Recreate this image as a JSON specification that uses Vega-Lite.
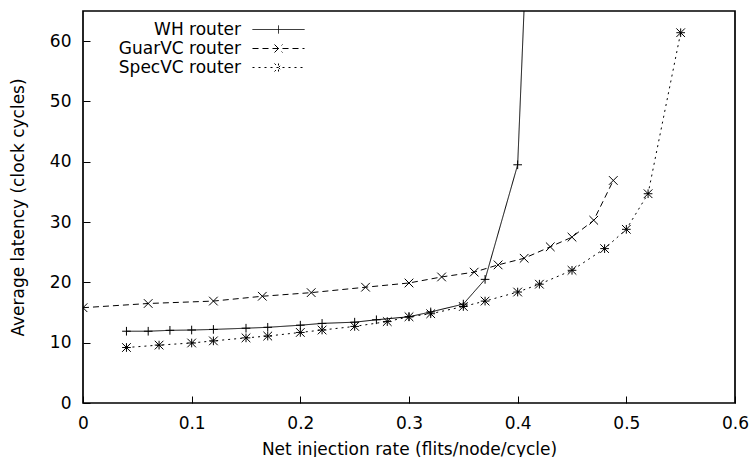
{
  "$schema": "https://vega.github.io/schema/vega-lite/v6.json",
  "width": 652,
  "height": 392,
  "autosize": "none",
  "padding": {"left": 83, "top": 11, "right": 16, "bottom": 54},
  "background": "white",
  "config": {
    "view": {"stroke": "#000", "strokeWidth": 1.7},
    "font": "DejaVu Sans",
    "axis": {
      "grid": false,
      "domain": false,
      "tickSize": -7,
      "tickColor": "#000",
      "tickWidth": 1,
      "labelColor": "#000",
      "labelFontSize": 17,
      "labelFlush": false,
      "titleColor": "#000",
      "titleFontSize": 17,
      "titleFontWeight": "normal"
    }
  },
  "data": {
    "values": [
      {"series": "WH router", "rate": 0.04, "latency": 11.9},
      {"series": "WH router", "rate": 0.06, "latency": 11.9},
      {"series": "WH router", "rate": 0.08, "latency": 12.05},
      {"series": "WH router", "rate": 0.10, "latency": 12.1},
      {"series": "WH router", "rate": 0.12, "latency": 12.2},
      {"series": "WH router", "rate": 0.15, "latency": 12.4},
      {"series": "WH router", "rate": 0.17, "latency": 12.55},
      {"series": "WH router", "rate": 0.20, "latency": 12.9},
      {"series": "WH router", "rate": 0.22, "latency": 13.2},
      {"series": "WH router", "rate": 0.25, "latency": 13.4},
      {"series": "WH router", "rate": 0.27, "latency": 13.8},
      {"series": "WH router", "rate": 0.30, "latency": 14.3},
      {"series": "WH router", "rate": 0.32, "latency": 15.1},
      {"series": "WH router", "rate": 0.35, "latency": 16.4},
      {"series": "WH router", "rate": 0.37, "latency": 20.5},
      {"series": "WH router", "rate": 0.40, "latency": 39.5},
      {"series": "WH router", "rate": 0.42, "latency": 127},
      {"series": "GuarVC router", "rate": 0.0, "latency": 15.8},
      {"series": "GuarVC router", "rate": 0.06, "latency": 16.5},
      {"series": "GuarVC router", "rate": 0.12, "latency": 16.9},
      {"series": "GuarVC router", "rate": 0.165, "latency": 17.7},
      {"series": "GuarVC router", "rate": 0.21, "latency": 18.3},
      {"series": "GuarVC router", "rate": 0.26, "latency": 19.2},
      {"series": "GuarVC router", "rate": 0.30, "latency": 19.9},
      {"series": "GuarVC router", "rate": 0.33, "latency": 20.9},
      {"series": "GuarVC router", "rate": 0.36, "latency": 21.7},
      {"series": "GuarVC router", "rate": 0.382, "latency": 22.9},
      {"series": "GuarVC router", "rate": 0.406, "latency": 24.0},
      {"series": "GuarVC router", "rate": 0.43, "latency": 25.9},
      {"series": "GuarVC router", "rate": 0.45, "latency": 27.5},
      {"series": "GuarVC router", "rate": 0.47, "latency": 30.3},
      {"series": "GuarVC router", "rate": 0.488, "latency": 36.9},
      {"series": "SpecVC router", "rate": 0.04, "latency": 9.2},
      {"series": "SpecVC router", "rate": 0.07, "latency": 9.6},
      {"series": "SpecVC router", "rate": 0.10, "latency": 9.95},
      {"series": "SpecVC router", "rate": 0.12, "latency": 10.3},
      {"series": "SpecVC router", "rate": 0.15, "latency": 10.8},
      {"series": "SpecVC router", "rate": 0.17, "latency": 11.1},
      {"series": "SpecVC router", "rate": 0.20, "latency": 11.7},
      {"series": "SpecVC router", "rate": 0.22, "latency": 12.1},
      {"series": "SpecVC router", "rate": 0.25, "latency": 12.7},
      {"series": "SpecVC router", "rate": 0.28, "latency": 13.5},
      {"series": "SpecVC router", "rate": 0.30, "latency": 14.3},
      {"series": "SpecVC router", "rate": 0.32, "latency": 14.8},
      {"series": "SpecVC router", "rate": 0.35, "latency": 16.0},
      {"series": "SpecVC router", "rate": 0.37, "latency": 16.9},
      {"series": "SpecVC router", "rate": 0.40, "latency": 18.4},
      {"series": "SpecVC router", "rate": 0.42, "latency": 19.7},
      {"series": "SpecVC router", "rate": 0.45, "latency": 22.0},
      {"series": "SpecVC router", "rate": 0.48, "latency": 25.6},
      {"series": "SpecVC router", "rate": 0.50, "latency": 28.8},
      {"series": "SpecVC router", "rate": 0.52, "latency": 34.7},
      {"series": "SpecVC router", "rate": 0.55, "latency": 61.4}
    ]
  },
  "encoding": {
    "x": {
      "field": "rate",
      "type": "quantitative",
      "scale": {"domain": [0, 0.6], "nice": false, "zero": false},
      "axis": {
        "title": "Net injection rate (flits/node/cycle)",
        "values": [0, 0.1, 0.2, 0.3, 0.4, 0.5, 0.6],
        "format": ".1~f",
        "labelPadding": 19,
        "titlePadding": 10
      }
    },
    "y": {
      "field": "latency",
      "type": "quantitative",
      "scale": {"domain": [0, 65], "nice": false},
      "axis": {
        "title": "Average latency (clock cycles)",
        "values": [0, 10, 20, 30, 40, 50, 60],
        "labelPadding": 19,
        "titlePadding": 22
      }
    }
  },
  "layer": [
    {
      "mark": {"type": "line", "clip": true, "color": "#000", "strokeWidth": 1},
      "encoding": {
        "strokeDash": {
          "field": "series",
          "type": "nominal",
          "scale": {
            "domain": ["WH router", "GuarVC router", "SpecVC router"],
            "range": [[1, 0], [6, 4], [2, 4]]
          },
          "legend": {
            "title": null,
            "orient": "none",
            "legendX": 187,
            "legendY": 10,
            "padding": 0,
            "symbolSize": 100,
            "symbolStrokeWidth": 1,
            "symbolStrokeColor": "#000",
            "labelAlign": "right",
            "labelOffset": -46,
            "labelFontSize": 17,
            "labelColor": "#000",
            "rowPadding": 1,
            "encode": {
              "symbols": {
                "update": {
                  "shape": {
                    "signal": "datum.value === 'WH router' ? 'M-5.2,0H5.2M0,-0.8V0.8' : datum.value === 'GuarVC router' ? 'M-5.2,0H5.2M-0.8,-0.8L0.8,0.8M-0.8,0.8L0.8,-0.8' : 'M-5.2,0H5.2M-0.8,-0.8L0.8,0.8M-0.8,0.8L0.8,-0.8M0,-0.8V0.8'"
                  },
                  "fill": {"value": "transparent"},
                  "stroke": {"value": "#000"}
                }
              }
            }
          }
        }
      }
    },
    {
      "transform": [{"filter": "datum.series === 'WH router'"}],
      "mark": {"type": "point", "clip": true, "filled": false, "color": "#000", "strokeWidth": 1, "size": 75, "opacity": 1, "shape": "M-1,0H1M0,-1V1"}
    },
    {
      "transform": [{"filter": "datum.series === 'GuarVC router'"}],
      "mark": {"type": "point", "clip": true, "filled": false, "color": "#000", "strokeWidth": 1, "size": 75, "opacity": 1, "shape": "M-1,-1L1,1M-1,1L1,-1"}
    },
    {
      "transform": [{"filter": "datum.series === 'SpecVC router'"}],
      "mark": {"type": "point", "clip": true, "filled": false, "color": "#000", "strokeWidth": 1, "size": 75, "opacity": 1, "shape": "M-1,-1L1,1M-1,1L1,-1M-1,0H1M0,-1V1"}
    }
  ]
}
